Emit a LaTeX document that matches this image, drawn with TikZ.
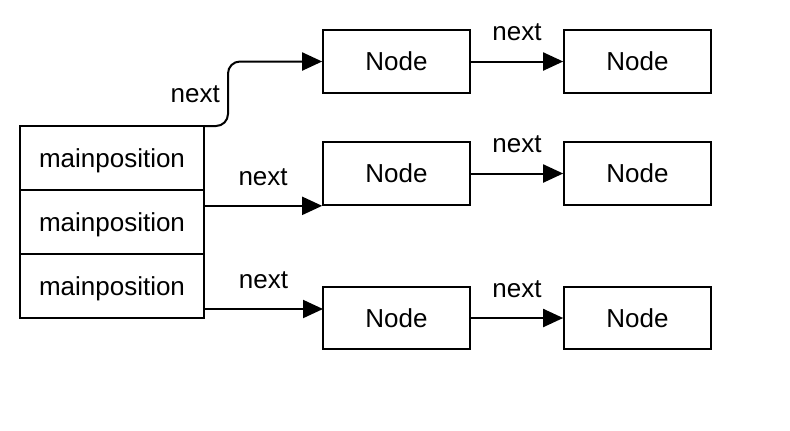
\documentclass[tikz,border=0pt]{standalone}
\usepackage{fontspec}
\setmainfont{Liberation Sans}
\usetikzlibrary{arrows.meta,positioning}

\begin{document}
\begin{tikzpicture}[x=0.75pt,y=-0.75pt,line width=1.5pt,>={Triangle[length=15pt,width=13.5pt]}]
    \tikzstyle{slot}=[rectangle,draw=black,fill=white,minimum width=138pt,minimum height=48pt,
    inner sep=0pt,outer sep=0pt,text depth=0pt,font=\fontsize{19.5}{23}\selectfont]
    \tikzstyle{listnode}=[rectangle,draw=black,fill=white,minimum width=110pt,minimum height=47pt,
    inner sep=0pt,font=\fontsize{19.5}{23}\selectfont]
    \tikzstyle{nextlabel}=[midway,yshift=21.75pt,font=\fontsize{19.5}{23}\selectfont]

    \useasboundingbox (0,0) rectangle (790,430);

    \node [slot] (main1) at (112,158) {mainposition};
    \node [slot] (main2) [below=0pt of main1] {mainposition};
    \node [slot] (main3) [below=0pt of main2] {mainposition};

    \node [listnode] (node1)  at (396.5,61.5) {Node};
    \node [listnode] (node1b) at (637.5,61.5) {Node};
    \node [listnode] (node2)  at (396.5,173.5) {Node};
    \node [listnode] (node2b) at (637.5,173.5) {Node};
    \node [listnode] (node3)  at (396.5,318) {Node};
    \node [listnode] (node3b) at (637.5,318) {Node};
    \coordinate (in3) at (323,309);

    \draw [->,rounded corners=9pt] (main1.north east) -- ++(24,0)
        |- node [pos=0.25,left,xshift=-2pt,font=\fontsize{19.5}{23}\selectfont] {next} (node1.west);
    \draw [->] (main2.east |- node2.south west) -- node [nextlabel] {next} (node2.south west);
    \draw [->] (main3.east |- in3) -- node [nextlabel] {next} (in3);

    \draw [->] (node1.east) -- node [nextlabel] {next} (node1b.west);
    \draw [->] (node2.east) -- node [nextlabel] {next} (node2b.west);
    \draw [->] (node3.east) -- node [nextlabel] {next} (node3b.west);
\end{tikzpicture}
\end{document}
